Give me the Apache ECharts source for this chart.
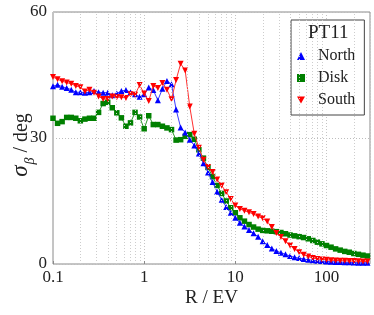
<!DOCTYPE html>
<html>
<head>
<meta charset="utf-8">
<script src="https://cdn.jsdelivr.net/npm/echarts@6/dist/echarts.min.js"></script>
<style>
html,body{margin:0;padding:0;background:#fff;overflow:hidden;}
#chart{width:374px;height:315px;}
</style>
</head>
<body>
<div id="chart"></div>
<script>
// R / EV sample positions (log spaced)
const rValues = [
  0.1, 0.1122, 0.1259, 0.1413, 0.1585, 0.1778, 0.1995, 0.2239, 0.2512, 0.2818,
  0.3162, 0.3548, 0.3981, 0.4467, 0.5012, 0.5623, 0.6310, 0.7079, 0.7943, 0.8913,
  1.0, 1.122, 1.259, 1.413, 1.585, 1.778, 1.995, 2.239, 2.512, 2.818,
  3.162, 3.548, 3.981, 4.467, 5.012, 5.623, 6.310, 7.079, 7.943, 8.913,
  10.0, 11.22, 12.59, 14.13, 15.85, 17.78, 19.95, 22.39, 25.12, 28.18,
  31.62, 35.48, 39.81, 44.67, 50.12, 56.23, 63.10, 70.79, 79.43, 89.13,
  100, 112.2, 125.9, 141.3, 158.5, 177.8, 199.5, 223.9, 251.2, 281.8
];
const northValues = [
  42.3, 42.7, 42.2, 41.9, 41.5, 40.9, 40.9, 40.8, 40.9, 41.2,
  40.9, 40.8, 40.8, 40.2, 40.6, 41.2, 41.4, 40.9, 40.4, 39.8,
  40.4, 42.0, 41.4, 39.0, 41.7, 43.6, 42.8, 36.8, 32.5, 31.3,
  29.6, 28.2, 26.3, 24.0, 21.8, 19.5, 17.2, 15.3, 13.6, 12.2,
  11.0, 9.8, 8.9, 8.1, 7.3, 6.5, 5.4, 4.5, 3.7, 3.1,
  2.7, 2.3, 1.9, 1.6, 1.4, 1.2, 1.0, 0.9, 0.8, 0.7,
  0.6, 0.55, 0.5, 0.45, 0.4, 0.4, 0.35, 0.3, 0.3, 0.3
];
const diskValues = [
  34.7, 33.5, 33.9, 34.9, 34.9, 34.7, 34.1, 34.5, 34.7, 34.7,
  36.1, 38.2, 38.5, 37.2, 36.0, 34.8, 32.8, 33.6, 36.1, 35.0,
  32.2, 35.3, 33.2, 33.2, 32.8, 32.4, 32.0, 29.5, 29.6, 30.4,
  30.8, 29.7, 27.2, 25.2, 23.0, 20.8, 18.7, 16.8, 15.0, 13.4,
  12.2, 11.0, 10.2, 9.4, 8.8, 8.3, 8.0, 7.9, 7.8, 7.7,
  7.5, 7.2, 6.9, 6.7, 6.5, 6.3, 6.0, 5.6, 5.2, 4.8,
  4.4, 4.0, 3.6, 3.3, 3.0, 2.8, 2.5, 2.3, 2.1, 1.9
];
const southValues = [
  44.5, 44.0, 43.5, 43.2, 42.9, 42.4, 42.1, 41.1, 41.5, 40.8,
  39.9, 39.3, 39.3, 39.9, 39.7, 39.7, 39.5, 40.4, 40.3, 42.6,
  40.6, 38.8, 42.4, 41.9, 43.1, 41.5, 39.2, 43.8, 47.7, 46.1,
  37.5, 31.0, 27.7, 24.8, 23.1, 21.9, 20.1, 18.7, 17.1, 15.5,
  13.9, 13.1, 12.7, 12.3, 11.9, 11.3, 10.9, 10.1, 8.8, 7.4,
  6.4, 5.4, 4.4, 3.6, 2.8, 2.2, 1.8, 1.4, 1.2, 1.1,
  1.0, 0.9, 0.85, 0.8, 0.75, 0.7, 0.7, 0.65, 0.6, 0.6
];
const seriesNames = ['North', 'Disk', 'South'];
const legendTitle = 'PT11';
const xTickLabels = ['0.1', '1', '10', '100'];
const yTickLabels = ['0', '30', '60'];
const minorGridR = [0.2,0.3,0.4,0.5,0.6,0.7,0.8,0.9,2,3,4,5,6,7,8,9,20,30,40,50,60,70,80,90,200,300];

const FONT = 'Liberation Serif';
const TXT = '#222';
const pair = (vals) => rValues.map((r, i) => [r, vals[i]]);

const chart = echarts.init(document.getElementById('chart'), null, {renderer: 'canvas'});
chart.setOption({
  animation: false,
  backgroundColor: '#fff',
  grid: {left: 53, right: 4, top: 12, bottom: 51, show: true, borderColor: '#8a8a8a', borderWidth: 1,
         backgroundColor: 'transparent', containLabel: false, outerBoundsMode: 'none'},
  xAxis: {
    type: 'log', logBase: 10, min: 0.1, max: 300,
    name: 'R / EV', nameLocation: 'middle', nameGap: 25, nameMoveOverlap: false,
    nameTextStyle: {fontFamily: FONT, fontSize: 19, color: TXT},
    axisLine: {show: false},
    axisTick: {show: true, inside: true, length: 3, lineStyle: {color: '#8a8a8a'}},
    axisLabel: {
      fontFamily: FONT, fontSize: 17, color: TXT, margin: 5, showMaxLabel: false,
      formatter: (v) => { const s = xTickLabels.find(t => Math.abs(parseFloat(t) - v) < 1e-6 * Math.max(1, v)); return s || ''; }
    },
    splitLine: {show: true, lineStyle: {type: [1, 2], color: '#c4c4c4', width: 1}}
  },
  yAxis: {
    type: 'value', min: 0, max: 60, interval: 30,
    name: '{a|σ}{b|β}{c| / deg}{sp| }', nameLocation: 'middle', nameGap: 21, nameMoveOverlap: false,
    nameTextStyle: {
      fontFamily: FONT, fontSize: 20, color: TXT,
      rich: {
        a: {fontFamily: FONT, fontStyle: 'italic', fontSize: 23, color: TXT, lineHeight: 24, verticalAlign: 'bottom'},
        b: {fontFamily: FONT, fontStyle: 'italic', fontSize: 14, color: TXT, lineHeight: 24, verticalAlign: 'bottom', padding: [0, 0, -5, 1]},
        c: {fontFamily: FONT, fontSize: 20, color: TXT, lineHeight: 24, verticalAlign: 'bottom'},
        sp: {fontFamily: FONT, fontSize: 20, width: 14, lineHeight: 24, verticalAlign: 'bottom'}
      }
    },
    axisLine: {show: false},
    axisTick: {show: false},
    axisLabel: {fontFamily: FONT, fontSize: 17, color: TXT, margin: 6,
      formatter: (v) => yTickLabels.find(t => parseFloat(t) === v) || ''},
    splitLine: {show: true, lineStyle: {type: [1, 2], color: '#bdbdbd', width: 1}}
  },
  legend: {
    orient: 'vertical', left: 291, top: 20,
    padding: [28, 9, 7, 6],
    itemWidth: 8, itemHeight: 8, itemGap: 6,
    backgroundColor: '#fff', borderColor: '#444', borderWidth: 1, borderRadius: 0,
    textStyle: {fontFamily: FONT, fontSize: 16, color: TXT, lineHeight: 16, padding: [0, 0, 0, 8]},
    data: [
      {name: seriesNames[0], icon: 'triangle'},
      {name: seriesNames[1], icon: 'rect'},
      {name: seriesNames[2], icon: 'path://M0,0L10,0L5,9Z'}
    ]
  },
  graphic: [{
    type: 'text', left: 308, top: 24, z: 100,
    style: {text: legendTitle, fontFamily: FONT, fontSize: 19, fill: TXT}
  }],
  series: [
    {
      type: 'line', name: '_grid', data: [], z: 1, silent: true,
      markLine: {
        silent: true, symbol: ['none', 'none'], label: {show: false}, animation: false,
        lineStyle: {type: [1, 2], color: '#cdcdcd', width: 1},
        data: minorGridR.map(v => ({xAxis: v}))
      }
    },
    {
      type: 'line', name: seriesNames[0], data: pair(northValues), z: 3,
      symbol: 'triangle', symbolSize: 6, color: '#0000ff',
      lineStyle: {width: 1, color: '#3a3aff'}
    },
    {
      type: 'line', name: seriesNames[1], data: pair(diskValues), z: 2,
      symbol: 'rect', symbolSize: 5.5, color: '#008000',
      lineStyle: {width: 1, color: '#2a9a2a'}
    },
    {
      type: 'line', name: seriesNames[2], data: pair(southValues), z: 4,
      symbol: 'triangle', symbolRotate: 180, symbolSize: 6, color: '#ff0000',
      lineStyle: {width: 1, color: '#ff3030'}
    }
  ]
});
</script>
</body>
</html>
